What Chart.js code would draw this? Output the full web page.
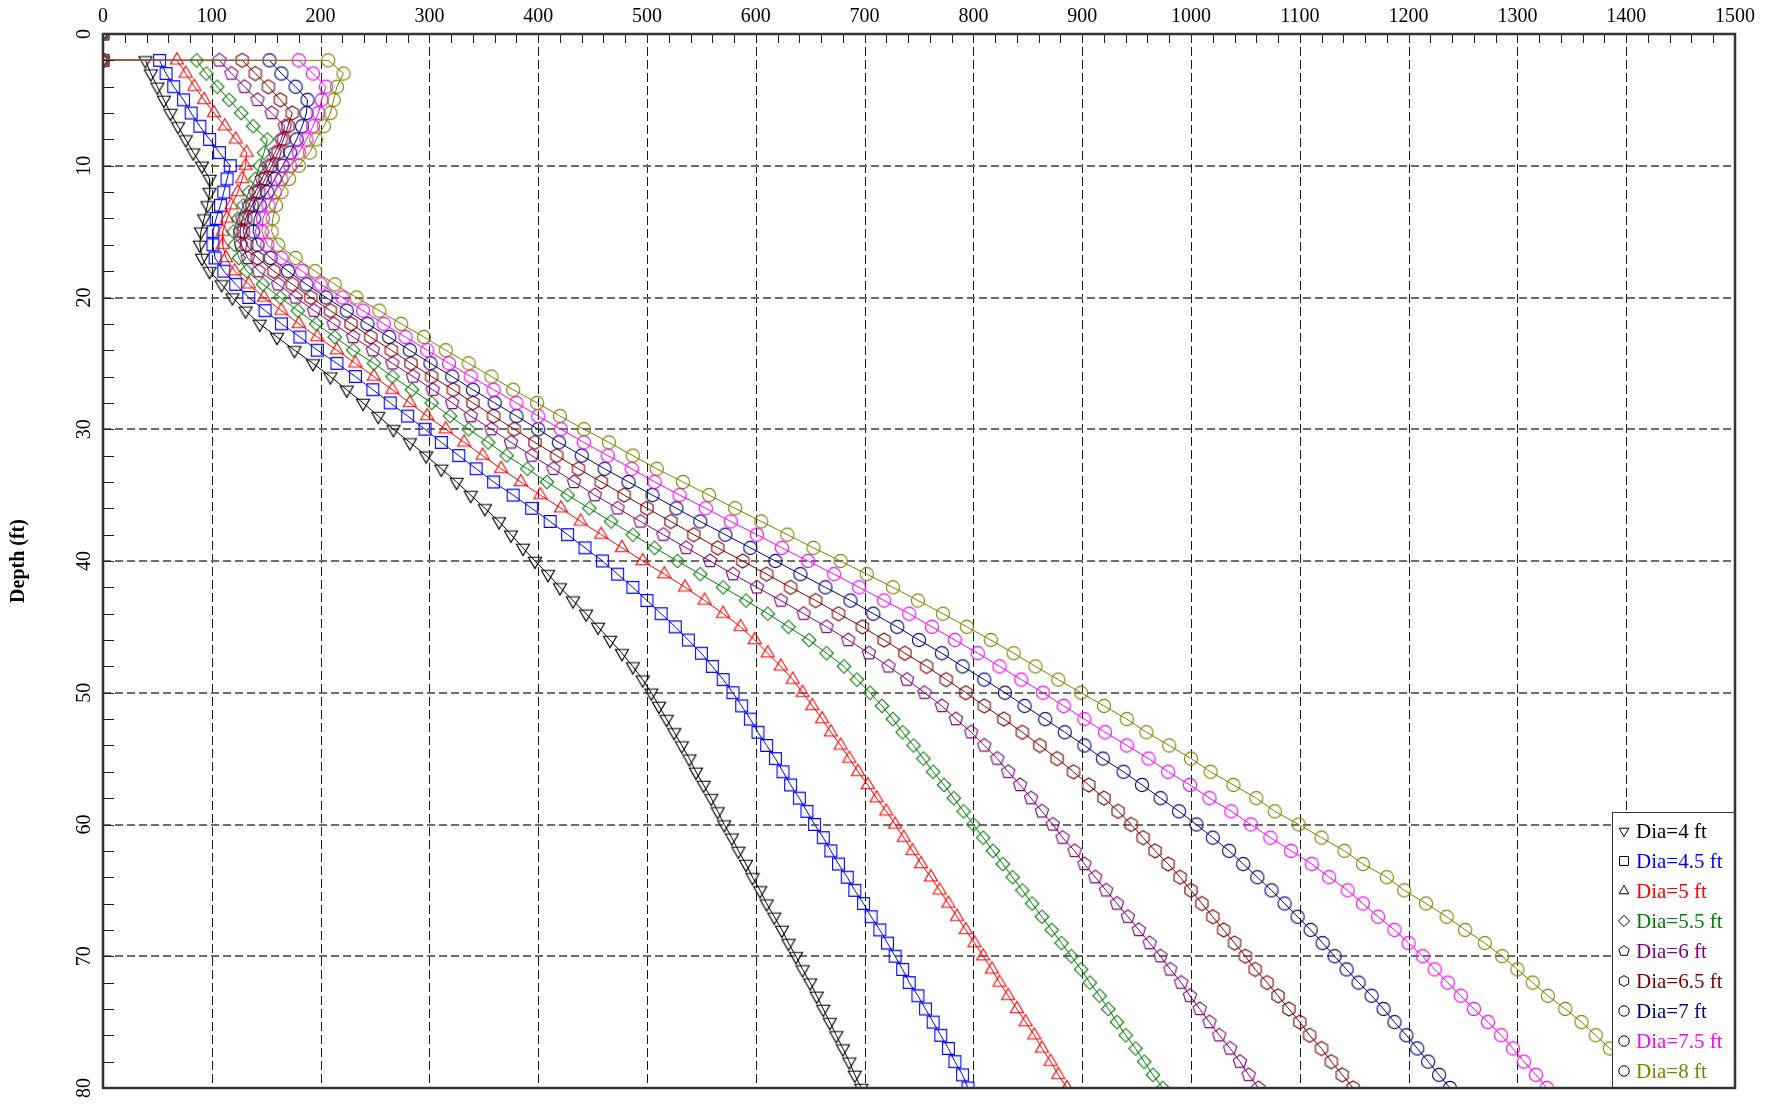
<!DOCTYPE html>
<html>
<head>
<meta charset="utf-8">
<script src="https://cdn.jsdelivr.net/npm/chart.js@4.4.0/dist/chart.umd.min.js"></script>
<style>
  html, body { margin: 0; padding: 0; background: #fff; }
  canvas { display: block; }
</style>
</head>
<body>
<canvas id="depthChart" width="1782" height="1105"></canvas>
<script>
// depth (ft) of every reading, 2 ft to 80 ft
const depths = [
  2, 3, 4, 5, 6, 7, 8, 9, 10, 11,
  12, 13, 14, 15, 16, 17, 18, 19, 20, 21,
  22, 23, 24, 25, 26, 27, 28, 29, 30, 31,
  32, 33, 34, 35, 36, 37, 38, 39, 40, 41,
  42, 43, 44, 45, 46, 47, 48, 49, 50, 51,
  52, 53, 54, 55, 56, 57, 58, 59, 60, 61,
  62, 63, 64, 65, 66, 67, 68, 69, 70, 71,
  72, 73, 74, 75, 76, 77, 78, 79, 80
];

const dia4 = [
  39, 44, 50, 56, 62, 69, 76, 83, 91, 98,
  98, 96, 93, 90, 89, 91, 98, 109, 119, 131,
  144, 160, 176, 193, 209, 224, 239, 253, 267, 282,
  297, 311, 325, 338, 351, 364, 375, 386, 397, 409,
  420, 432, 444, 455, 466, 477, 487, 496, 504, 511,
  518, 525, 532, 539, 545, 552, 559, 565, 571, 578,
  584, 591, 597, 604, 610, 617, 624, 630, 637, 643,
  650, 656, 662, 668, 674, 680, 686, 691, 697
];
const dia45 = [
  52, 58, 65, 74, 81, 89, 98, 107, 117, 114,
  111, 108, 104, 101, 101, 103, 111, 122, 134, 149,
  164, 181, 197, 215, 232, 248, 264, 280, 296, 311,
  327, 343, 359, 377, 394, 411, 427, 443, 459, 473,
  487, 500, 513, 526, 538, 550, 560, 570, 579, 587,
  595, 602, 610, 618, 625, 632, 640, 647, 654, 662,
  669, 676, 684, 691, 699, 706, 714, 721, 728, 735,
  741, 749, 756, 763, 770, 777, 783, 790, 795
];
const dia5 = [
  68, 76, 84, 93, 102, 112, 122, 132, 131, 128,
  124, 118, 114, 110, 110, 113, 121, 134, 148, 164,
  180, 197, 215, 232, 249, 266, 282, 298, 315, 332,
  349, 366, 384, 402, 421, 439, 458, 477, 496, 516,
  535, 553, 570, 586, 599, 611, 623, 634, 643, 652,
  661, 669, 678, 686, 694, 703, 711, 720, 728, 736,
  744, 752, 761, 769, 777, 785, 793, 801, 809, 817,
  824, 832, 840, 848, 856, 863, 871, 878, 886
];
const dia55 = [
  86, 95, 105, 116, 127, 138, 151, 148, 144, 140,
  134, 129, 124, 120, 121, 125, 132, 147, 163, 179,
  196, 213, 230, 249, 266, 284, 302, 319, 336, 354,
  371, 390, 408, 427, 447, 467, 487, 507, 528, 549,
  570, 591, 611, 630, 649, 665, 681, 693, 705, 716,
  726, 735, 745, 754, 763, 773, 782, 791, 800, 809,
  818, 827, 836, 845, 854, 863, 872, 881, 890, 899,
  907, 916, 924, 932, 940, 949, 957, 965, 974
];
const dia6 = [
  107, 118, 130, 142, 155, 167, 164, 158, 152, 146,
  140, 134, 128, 126, 127, 133, 143, 161, 177, 194,
  212, 230, 248, 266, 285, 303, 321, 338, 357, 375,
  394, 414, 433, 452, 473, 494, 515, 536, 558, 579,
  601, 623, 644, 665, 685, 704, 722, 739, 755, 771,
  784, 798, 810, 822, 832, 843, 853, 863, 873, 882,
  893, 902, 912, 922, 932, 942, 952, 962, 972, 981,
  991, 999, 1008, 1017, 1026, 1036, 1045, 1053, 1062
];
const dia65 = [
  128, 140, 152, 163, 174, 170, 166, 161, 155, 149,
  143, 137, 131, 129, 132, 142, 157, 174, 191, 209,
  228, 246, 265, 283, 302, 322, 340, 359, 378, 397,
  417, 437, 458, 479, 500, 522, 543, 565, 588, 610,
  632, 655, 676, 698, 718, 737, 757, 775, 793, 810,
  828, 845, 861, 877, 892, 906, 920, 933, 945, 956,
  967, 979, 990, 1000, 1010, 1020, 1030, 1040, 1050, 1059,
  1070, 1080, 1090, 1100, 1109, 1120, 1129, 1139, 1149
];
const dia7 = [
  153, 164, 177, 188, 187, 183, 178, 172, 165, 158,
  151, 144, 139, 138, 142, 154, 170, 187, 205, 224,
  243, 263, 282, 301, 321, 340, 360, 380, 400, 419,
  440, 461, 483, 505, 527, 549, 572, 595, 618, 641,
  664, 687, 708, 730, 750, 771, 790, 810, 829, 847,
  866, 884, 902, 919, 938, 955, 972, 989, 1005, 1020,
  1035, 1048, 1061, 1074, 1086, 1098, 1110, 1121, 1132, 1143,
  1154, 1166, 1177, 1187, 1198, 1208, 1218, 1228, 1238
];
const dia75 = [
  180, 193, 205, 201, 198, 193, 187, 180, 172, 164,
  158, 152, 147, 146, 151, 164, 183, 200, 220, 239,
  258, 278, 298, 318, 338, 359, 380, 400, 421, 442,
  464, 486, 507, 530, 554, 577, 601, 624, 648, 672,
  695, 718, 741, 762, 783, 804, 824, 844, 864, 883,
  902, 921, 941, 961, 979, 999, 1017, 1037, 1055, 1073,
  1092, 1111, 1127, 1144, 1158, 1172, 1187, 1200, 1213, 1224,
  1236, 1248, 1260, 1273, 1285, 1296, 1306, 1317, 1327
];
const dia8 = [
  207, 221, 215, 212, 209, 203, 196, 190, 180, 171,
  164, 159, 156, 155, 161, 177, 195, 213, 233, 254,
  274, 295, 315, 336, 357, 377, 399, 420, 442, 465,
  487, 509, 533, 557, 581, 605, 629, 653, 678, 702,
  726, 749, 772, 794, 816, 837, 857, 878, 899, 920,
  941, 959, 980, 1000, 1018, 1039, 1060, 1077, 1099, 1120,
  1141, 1158, 1180, 1196, 1216, 1235, 1252, 1270, 1286, 1300,
  1314, 1328, 1344, 1359, 1372, 1385, 1398, 1411, 1423
];

const seriesNames = ['Dia=4 ft', 'Dia=4.5 ft', 'Dia=5 ft', 'Dia=5.5 ft', 'Dia=6 ft',
                     'Dia=6.5 ft', 'Dia=7 ft', 'Dia=7.5 ft', 'Dia=8 ft'];
const seriesValues = [dia4, dia45, dia5, dia55, dia6, dia65, dia7, dia75, dia8];

// each curve starts on the axis at the surface and at 2 ft
const startDepths = [0, 2];
const startValue = 0;

const xTicks = [0, 100, 200, 300, 400, 500, 600, 700, 800, 900, 1000, 1100, 1200, 1300, 1400, 1500];
const yTicks = [0, 10, 20, 30, 40, 50, 60, 70, 80];

const colors = ['#000000', '#0000ff', '#ff0000', '#008000', '#800080',
                '#800000', '#000080', '#ff00ff', '#808000'];
const shapes = ['down', 'rect', 'triangle', 'diamond', 'pentagon',
                'hexagon', 'circle', 'circle', 'circle'];

const FONT = '"Liberation Serif", "Times New Roman", serif';

function polygonPath(ctx, cx, cy, r, n, startAngle) {
    ctx.beginPath();
    for (let k = 0; k < n; k++) {
        const a = startAngle + k * 2 * Math.PI / n;
        const px = cx + r * Math.cos(a), py = cy + r * Math.sin(a);
        if (k === 0) ctx.moveTo(px, py); else ctx.lineTo(px, py);
    }
    ctx.closePath();
}

// draw one marker shape (used both for the point images and the legend)
function shapePath(ctx, shape, cx, cy, r) {
    switch (shape) {
        case 'down': polygonPath(ctx, cx, cy, r, 3, Math.PI / 2); break;
        case 'triangle': polygonPath(ctx, cx, cy, r, 3, -Math.PI / 2); break;
        case 'rect': ctx.beginPath(); ctx.rect(cx - r * 0.8, cy - r * 0.8, r * 1.6, r * 1.6); break;
        case 'diamond': polygonPath(ctx, cx, cy, r, 4, 0); break;
        case 'pentagon': polygonPath(ctx, cx, cy, r, 5, -Math.PI / 2); break;
        case 'hexagon': polygonPath(ctx, cx, cy, r, 6, -Math.PI / 2); break;
        default: ctx.beginPath(); ctx.arc(cx, cy, r, 0, 2 * Math.PI);
    }
}

function makeMarker(shape, color, r) {
    const c = document.createElement('canvas');
    const s = Math.ceil(r * 2 + 4);
    c.width = s; c.height = s;
    const g = c.getContext('2d');
    g.strokeStyle = color;
    g.lineWidth = 1.1;
    shapePath(g, shape, s / 2, s / 2, r);
    g.stroke();
    return c;
}

const radii = { down: 7.6, triangle: 7.6, rect: 7.4, diamond: 6.8, pentagon: 7, hexagon: 7, circle: 6.6 };
const legendRadii = { down: 5.6, triangle: 5.6, rect: 5.6, diamond: 5.6, pentagon: 5.4, hexagon: 5.4, circle: 5.2 };

const datasets = seriesNames.map((name, i) => ({
    label: name,
    data: startDepths.map(d => ({ x: startValue, y: d }))
        .concat(depths.map((d, k) => ({ x: seriesValues[i][k], y: d }))),
    borderColor: colors[i],
    borderWidth: 1,
    pointStyle: makeMarker(shapes[i], colors[i], radii[shapes[i]]),
    pointRadius: 6,
    tension: 0,
    clip: 0,
    order: seriesNames.length - i
}));

const framePlugin = {
    id: 'frame',
    beforeDatasetsDraw(chart) {
        const { ctx, chartArea: a, scales: { x, y } } = chart;
        ctx.save();
        // vertical dashed grid
        ctx.strokeStyle = '#1a1a1a';
        ctx.lineWidth = 1;
        ctx.setLineDash([9, 4]);
        xTicks.slice(1, -1).forEach(v => {
            const px = Math.round(x.getPixelForValue(v)) + 0.5;
            ctx.beginPath(); ctx.moveTo(px, a.top); ctx.lineTo(px, a.bottom); ctx.stroke();
        });
        // horizontal dashed grid
        ctx.strokeStyle = '#6e6e6e';
        ctx.lineWidth = 2;
        ctx.setLineDash([8, 4]);
        yTicks.slice(1, -1).forEach(v => {
            const py = Math.round(y.getPixelForValue(v));
            ctx.beginPath(); ctx.moveTo(a.left, py); ctx.lineTo(a.right, py); ctx.stroke();
        });
        ctx.restore();
    },
    afterDatasetsDraw(chart) {
        const { ctx, chartArea: a, scales: { x, y } } = chart;
        ctx.save();
        // inner minor ticks
        ctx.strokeStyle = '#222';
        ctx.lineWidth = 1;
        for (let v = 0; v <= 1500; v += 20) {
            const px = Math.round(x.getPixelForValue(v)) + 0.5;
            ctx.beginPath(); ctx.moveTo(px, a.top); ctx.lineTo(px, a.top + 9); ctx.stroke();
        }
        for (let v = 0; v <= 80; v += 2) {
            const py = Math.round(y.getPixelForValue(v)) + 0.5;
            ctx.beginPath(); ctx.moveTo(a.left, py); ctx.lineTo(a.left + 11, py); ctx.stroke();
        }

        // legend box in the lower right corner
        const lw = 123, lh = 276;
        const lx = a.right - lw, ly = a.bottom - lh;
        ctx.fillStyle = '#fff';
        ctx.fillRect(lx, ly, lw, lh);
        ctx.strokeStyle = '#333';
        ctx.lineWidth = 1;
        ctx.strokeRect(lx + 0.5, ly + 0.5, lw, lh);
        ctx.font = '21px ' + FONT;
        ctx.textBaseline = 'middle';
        ctx.textAlign = 'left';
        seriesNames.forEach((name, i) => {
            const cy = ly + 19 + i * 30;
            ctx.strokeStyle = '#000';
            ctx.lineWidth = 1;
            shapePath(ctx, shapes[i], lx + 12, cy, legendRadii[shapes[i]]);
            ctx.stroke();
            ctx.fillStyle = colors[i];
            ctx.fillText(name, lx + 24, cy + 1);
        });

        // frame
        ctx.strokeStyle = '#333';
        ctx.lineWidth = 2.5;
        ctx.strokeRect(a.left, a.top, a.right - a.left, a.bottom - a.top);

        // tick labels and title
        ctx.fillStyle = '#000';
        ctx.font = '20px ' + FONT;
        ctx.textAlign = 'center';
        ctx.textBaseline = 'middle';
        xTicks.forEach(v => {
            ctx.fillText(String(v), x.getPixelForValue(v), a.top - 17);
        });
        yTicks.forEach(v => {
            ctx.save();
            ctx.translate(a.left - 18, y.getPixelForValue(v));
            ctx.rotate(-Math.PI / 2);
            ctx.fillText(String(v), 0, 0);
            ctx.restore();
        });
        ctx.save();
        ctx.font = 'bold 20px ' + FONT;
        ctx.translate(19, (a.top + a.bottom) / 2);
        ctx.rotate(-Math.PI / 2);
        ctx.fillText('Depth (ft)', 0, 0);
        ctx.restore();
        ctx.restore();
    }
};

new Chart(document.getElementById('depthChart'), {
    type: 'line',
    data: { datasets },
    options: {
        responsive: false,
        animation: false,
        devicePixelRatio: 1,
        layout: { padding: { top: 0, left: 0, right: 47, bottom: 17 } },
        plugins: { legend: { display: false }, tooltip: { enabled: false } },
        scales: {
            x: {
                type: 'linear',
                position: 'top',
                min: 0,
                max: 1500,
                afterBuildTicks: s => { s.ticks = xTicks.map(v => ({ value: v })); },
                afterFit: s => { s.height = 34; },
                ticks: { display: false },
                grid: { display: false },
                border: { display: false }
            },
            y: {
                type: 'linear',
                reverse: true,
                min: 0,
                max: 80,
                afterFit: s => { s.width = 103; },
                ticks: { display: false },
                grid: { display: false },
                border: { display: false }
            }
        }
    },
    plugins: [framePlugin]
});
</script>
</body>
</html>
